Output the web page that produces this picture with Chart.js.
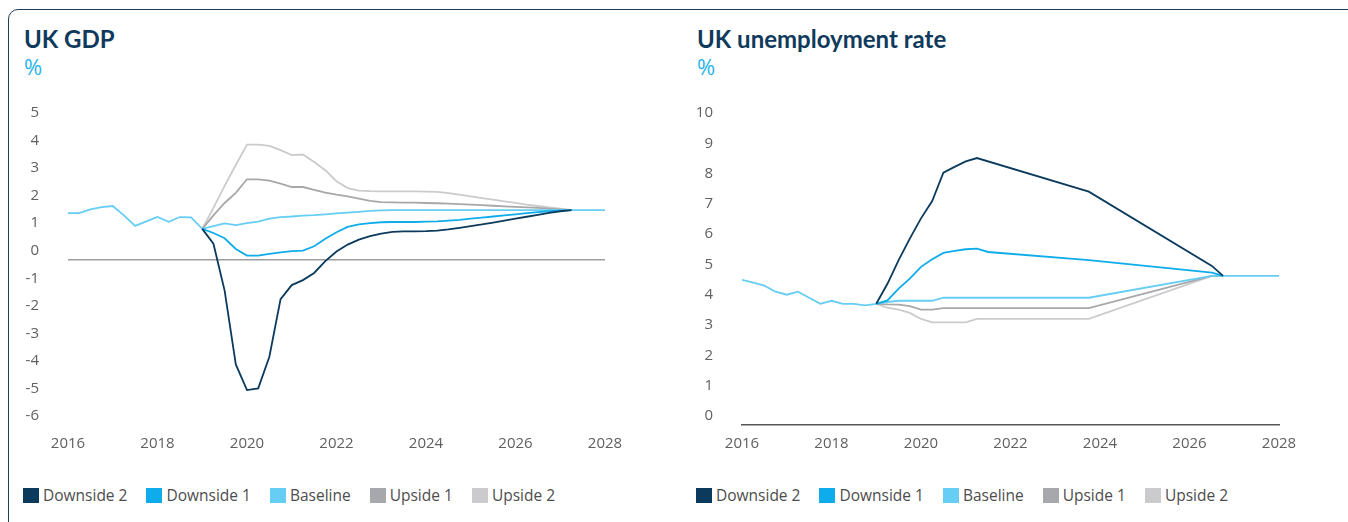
<!DOCTYPE html>
<html lang="en">
<head>
<meta charset="UTF-8">
<title>UK GDP and unemployment scenarios</title>
<script src="https://cdn.jsdelivr.net/npm/chart.js"></script>
<style>
  html, body { margin: 0; padding: 0; background: #fff; }
  body { width: 1348px; height: 522px; position: relative; overflow: hidden; font-family: "Open Sans", sans-serif; }
  .frame { position: absolute; left: 8px; top: 9px; width: 1400px; height: 600px; border: 1.5px solid #1d3e5e; border-top-left-radius: 10px; box-sizing: border-box; }
  .title { position: absolute; top: 25px; font-family: Lato, sans-serif; font-weight: 700; font-size: 24px; line-height: 1.2; color: #0f3a5c; margin: 0; }
  .unit { position: absolute; top: 51px; font-size: 22px; color: #2ab4ee; }
  .box { position: absolute; top: 84px; width: 674px; height: 385px; }
  .legend { position: absolute; top: 485px; display: flex; align-items: center; font-size: 15.5px; color: #4d4d4d; line-height: 20px; }
  .legend span.item { display: flex; align-items: center; margin-right: 19px; }
  .legend i { display: inline-block; width: 16px; height: 15px; margin-right: 4px; }
</style>
</head>
<body>
<div class="frame"></div>

<h2 class="title" style="left:24px">UK GDP</h2>
<div class="unit" style="left:24px">%</div>
<h2 class="title" style="left:697px">UK unemployment rate</h2>
<div class="unit" style="left:697px">%</div>

<div class="box" style="left:0"><canvas id="gdpChart"></canvas></div>
<div class="box" style="left:674px"><canvas id="urChart"></canvas></div>

<div class="legend" id="legendLeft" style="left:23px"></div>
<div class="legend" id="legendRight" style="left:696px"></div>

<script>
// series names and colours
const seriesNames = ['Downside 2', 'Downside 1', 'Baseline', 'Upside 1', 'Upside 2'];
const seriesColors = ['#0b3a5d', '#0eacea', '#66cdf4', '#a7a8ab', '#cbcbcd'];

// x axis ticks (years)
const yearTicks = [2016, 2018, 2020, 2022, 2024, 2026, 2028];

// ---- UK GDP, % ----
const gdpBaseYears = [2016, 2016.25, 2016.5, 2016.75, 2017, 2017.25, 2017.5, 2017.75,
  2018, 2018.25, 2018.5, 2018.75, 2019, 2019.25, 2019.5, 2019.75, 2020, 2020.25, 2020.5,
  2020.75, 2021, 2021.25, 2021.5, 2021.75, 2022, 2022.25, 2022.5, 2022.75, 2023, 2023.25, 2028];
const gdpBaseline = [1.69, 1.69, 1.83, 1.91, 1.95, 1.61, 1.23, 1.39, 1.55, 1.38, 1.55, 1.54, 1.12,
  1.22, 1.32, 1.26, 1.33, 1.38, 1.49, 1.55, 1.57, 1.60, 1.62, 1.65, 1.68, 1.71, 1.74, 1.77,
  1.79, 1.80, 1.80];

const gdpScenYears = [2019, 2019.25, 2019.5, 2019.75, 2020, 2020.25, 2020.5, 2020.75,
  2021, 2021.25, 2021.5, 2021.75, 2022, 2022.25, 2022.5, 2022.75, 2023, 2023.25, 2023.5,
  2023.75, 2024, 2024.25, 2024.5, 2024.75, 2025, 2025.25, 2025.5, 2025.75, 2026, 2026.25,
  2026.5, 2026.75, 2027, 2027.25];
const gdpDownside2 = [1.12, 0.58, -1.12, -3.80, -4.73, -4.67, -3.52, -1.43, -0.92, -0.74, -0.48,
  -0.05, 0.30, 0.55, 0.73, 0.86, 0.95, 1.01, 1.03, 1.03, 1.04, 1.06, 1.10, 1.16, 1.22, 1.28,
  1.35, 1.42, 1.49, 1.56, 1.63, 1.70, 1.76, 1.80];
const gdpDownside1 = [1.12, 0.97, 0.78, 0.39, 0.15, 0.15, 0.21, 0.27, 0.31, 0.33, 0.49, 0.76,
  1.00, 1.19, 1.28, 1.33, 1.36, 1.37, 1.37, 1.37, 1.38, 1.39, 1.42, 1.45, 1.49, 1.53, 1.57,
  1.61, 1.65, 1.69, 1.73, 1.76, 1.78, 1.80];
const gdpUpside1 = [1.12, 1.61, 2.06, 2.43, 2.92, 2.92, 2.87, 2.76, 2.64, 2.64, 2.54, 2.44,
  2.36, 2.30, 2.22, 2.14, 2.09, 2.08, 2.07, 2.07, 2.06, 2.05, 2.04, 2.02, 2.00, 1.98, 1.96,
  1.94, 1.92, 1.90, 1.88, 1.85, 1.83, 1.80];
const gdpUpside2 = [1.12, 1.88, 2.68, 3.44, 4.18, 4.18, 4.13, 3.98, 3.80, 3.82, 3.55, 3.25,
  2.85, 2.60, 2.51, 2.49, 2.48, 2.48, 2.48, 2.48, 2.47, 2.46, 2.42, 2.36, 2.30, 2.24, 2.18,
  2.12, 2.06, 2.00, 1.95, 1.90, 1.85, 1.80];
const gdpTicks = [-6, -5, -4, -3, -2, -1, 0, 1, 2, 3, 4, 5];

// ---- UK unemployment rate, % ----
const urBaseYears = [2016, 2016.25, 2016.5, 2016.75, 2017, 2017.25, 2017.5, 2017.75, 2018,
  2018.25, 2018.5, 2018.75, 2019, 2019.25, 2019.5, 2019.75, 2020, 2020.25, 2020.5, 2023.75,
  2026.5, 2028];
const urBaseline = [4.79, 4.70, 4.60, 4.40, 4.30, 4.40, 4.20, 4.00, 4.10, 4.00, 4.00, 3.95,
  4.00, 4.06, 4.10, 4.10, 4.10, 4.10, 4.20, 4.20, 4.92, 4.92];
const urDown2Years = [2019, 2019.25, 2019.5, 2019.75, 2020, 2020.25, 2020.5, 2020.75, 2021,
  2021.25, 2023.75, 2026.5, 2026.75];
const urDownside2 = [4.00, 4.66, 5.44, 6.15, 6.82, 7.39, 8.33, 8.52, 8.70, 8.81, 7.70, 5.25, 4.92];
const urDown1Years = [2019, 2019.25, 2019.5, 2019.75, 2020, 2020.25, 2020.5, 2020.75, 2021,
  2021.25, 2021.5, 2023.75, 2026.5, 2026.75];
const urDownside1 = [4.00, 4.11, 4.50, 4.83, 5.22, 5.47, 5.68, 5.75, 5.80, 5.82, 5.71, 5.44, 5.03, 4.92];
const urUp1Years = [2019, 2019.25, 2019.5, 2019.75, 2020, 2020.25, 2020.5, 2023.75, 2026.5, 2026.75];
const urUpside1 = [4.00, 3.98, 3.97, 3.92, 3.81, 3.81, 3.86, 3.86, 4.92, 4.92];
const urUp2Years = [2019, 2019.25, 2019.5, 2019.75, 2020, 2020.25, 2020.5, 2020.75, 2021,
  2021.25, 2023.75, 2026.5, 2026.75];
const urUpside2 = [4.00, 3.87, 3.81, 3.70, 3.50, 3.39, 3.39, 3.39, 3.39, 3.50, 3.50, 4.92, 4.92];
const urTicks = [0, 1, 2, 3, 4, 5, 6, 7, 8, 9, 10];

// pair years with values for a linear x axis
function pts(xs, ys) {
  return xs.map((x, i) => ({ x: x, y: ys[i] }));
}

function line(i, data) {
  return {
    label: seriesNames[i],
    data: data,
    borderColor: seriesColors[i],
    backgroundColor: seriesColors[i],
    borderWidth: 1.8,
    pointRadius: 0,
    tension: 0,
    fill: false
  };
}

const tickFont = { family: 'Open Sans', size: 15 };
const tickColor = '#606060';

function makeChart(id, datasets, yTicks, isGdp) {
  const ctx = document.getElementById(id).getContext('2d');
  return new Chart(ctx, {
    type: 'line',
    data: { datasets: datasets },
    options: {
      responsive: true,
      maintainAspectRatio: false,
      animation: false,
      events: [],
      layout: { padding: { top: 26, right: 69, bottom: 6, left: 0 } },
      plugins: { legend: { display: false }, tooltip: { enabled: false } },
      scales: {
        x: {
          type: 'linear',
          min: yearTicks[0],
          max: yearTicks[yearTicks.length - 1],
          afterBuildTicks: s => { s.ticks = yearTicks.map(v => ({ value: v })); },
          ticks: {
            callback: v => String(v),
            font: tickFont, color: tickColor, padding: 10,
            maxRotation: 0, autoSkip: false
          },
          grid: { display: false, drawTicks: false },
          border: isGdp ? { display: false } : { display: true, color: '#555', width: 1.5 }
        },
        y: {
          min: yTicks[0],
          max: yTicks[yTicks.length - 1],
          afterBuildTicks: s => { s.ticks = yTicks.map(v => ({ value: v })); },
          afterFit: s => { s.width = 68; },
          ticks: {
            font: tickFont, color: tickColor, padding: 29, labelOffset: -9
          },
          grid: isGdp ? {
            drawTicks: false,
            lineWidth: 1.5,
            color: c => (c.tick && c.tick.value === 0) ? '#9d9d9d' : 'rgba(0,0,0,0)'
          } : { display: false, drawTicks: false },
          border: { display: false }
        }
      }
    }
  });
}

makeChart('gdpChart', [
  line(0, pts(gdpScenYears, gdpDownside2)),
  line(1, pts(gdpScenYears, gdpDownside1)),
  line(2, pts(gdpBaseYears, gdpBaseline)),
  line(3, pts(gdpScenYears, gdpUpside1)),
  line(4, pts(gdpScenYears, gdpUpside2))
], gdpTicks, true);

makeChart('urChart', [
  line(0, pts(urDown2Years, urDownside2)),
  line(1, pts(urDown1Years, urDownside1)),
  line(2, pts(urBaseYears, urBaseline)),
  line(3, pts(urUp1Years, urUpside1)),
  line(4, pts(urUp2Years, urUpside2))
], urTicks, false);

// html legends below each chart
['legendLeft', 'legendRight'].forEach(id => {
  const el = document.getElementById(id);
  seriesNames.forEach((name, i) => {
    const item = document.createElement('span');
    item.className = 'item';
    item.innerHTML = '<i style="background:' + seriesColors[i] + '"></i>' + name;
    el.appendChild(item);
  });
});
</script>
</body>
</html>
